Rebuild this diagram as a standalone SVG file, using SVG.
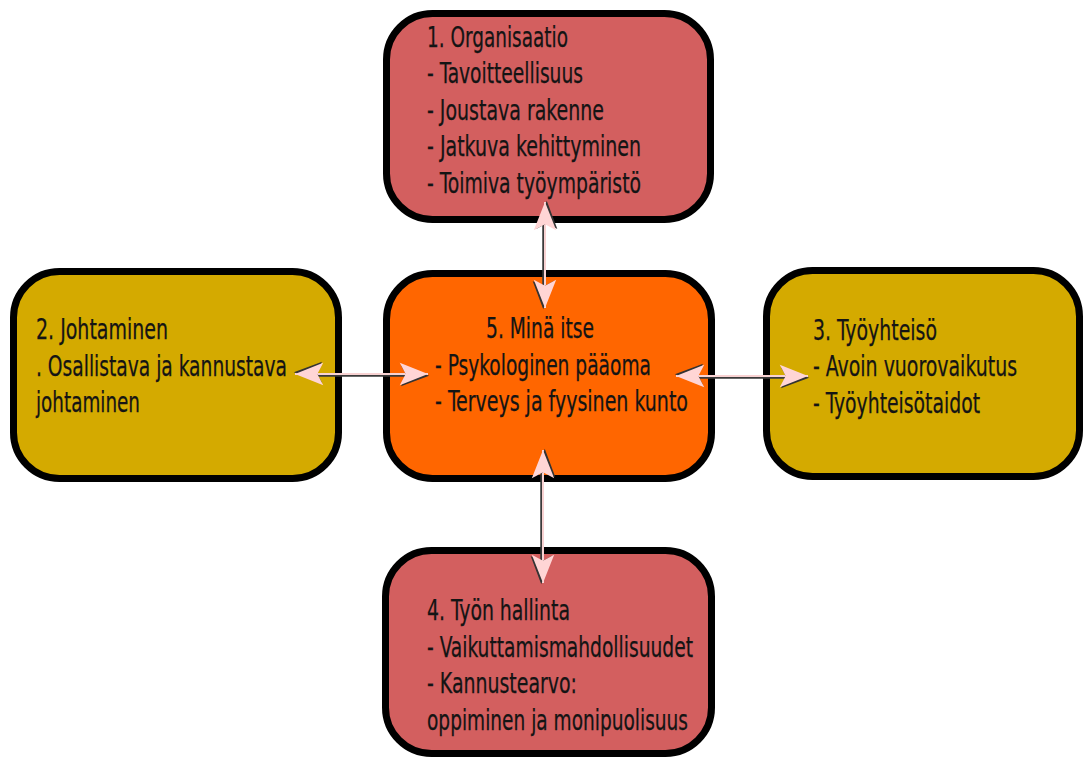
<svg xmlns="http://www.w3.org/2000/svg" width="1086" height="758" viewBox="0 0 1086 758">
<style>
.box{stroke:#000;stroke-width:7}
.red{fill:#d35f5f}
.org{fill:#ff6600}
.yel{fill:#d4aa00}
text{font-family:"DejaVu Sans Condensed","DejaVu Sans",sans-serif;font-size:28px;fill:#141414;stroke:#141414;stroke-width:0.25}
.sh{stroke:#3a3a3a;stroke-width:2.5;fill:none}
.ln{stroke:#f8d2d2;stroke-width:2;fill:none;marker-start:url(#ah);marker-end:url(#ah)}
</style>
<defs>
<marker id="ah" markerUnits="userSpaceOnUse" markerWidth="40" markerHeight="40" viewBox="-30 -15 34 30" refX="0" refY="0" orient="auto-start-reverse" overflow="visible">
<path d="M1,1.5 L-23,-7.5 L-18,1.5 L-23,10.5 Z" fill="#333"/>
<path d="M0,0 L-24,-9.5 L-19,0 L-24,9.5 Z" fill="#ffd5d5"/>
</marker>
</defs>
<rect width="1086" height="758" fill="#fff"/>
<g id="node1">
<rect class="box red" x="386.5" y="13.5" width="324" height="206" rx="46"/>
<text x="427" y="46.5" textLength="141" lengthAdjust="spacingAndGlyphs">1. Organisaatio</text>
<text x="427" y="83" textLength="156" lengthAdjust="spacingAndGlyphs">- Tavoitteellisuus</text>
<text x="427" y="119.5" textLength="177" lengthAdjust="spacingAndGlyphs">- Joustava rakenne</text>
<text x="427" y="156" textLength="214" lengthAdjust="spacingAndGlyphs">- Jatkuva kehittyminen</text>
<text x="427" y="192.5" textLength="214" lengthAdjust="spacingAndGlyphs">- Toimiva työympäristö</text>
</g>
<g id="node2">
<rect class="box yel" x="13.5" y="271.5" width="325" height="207" rx="46"/>
<text x="36" y="339" textLength="132" lengthAdjust="spacingAndGlyphs">2. Johtaminen</text>
<text x="36" y="375.5" textLength="251" lengthAdjust="spacingAndGlyphs">. Osallistava ja kannustava</text>
<text x="36" y="412" textLength="104" lengthAdjust="spacingAndGlyphs">johtaminen</text>
</g>
<g id="node3">
<rect class="box yel" x="766.5" y="270.5" width="313" height="206" rx="46"/>
<text x="813" y="339.5" textLength="124" lengthAdjust="spacingAndGlyphs">3. Työyhteisö</text>
<text x="813" y="376" textLength="204" lengthAdjust="spacingAndGlyphs">- Avoin vuorovaikutus</text>
<text x="813" y="412.5" textLength="167" lengthAdjust="spacingAndGlyphs">- Työyhteisötaidot</text>
</g>
<g id="node4">
<rect class="box red" x="385.5" y="550.5" width="326" height="203" rx="46"/>
<text x="427" y="620" textLength="143" lengthAdjust="spacingAndGlyphs">4. Työn hallinta</text>
<text x="427" y="656.5" textLength="266" lengthAdjust="spacingAndGlyphs">- Vaikuttamismahdollisuudet</text>
<text x="427" y="693" textLength="150" lengthAdjust="spacingAndGlyphs">- Kannustearvo:</text>
<text x="427" y="729.5" textLength="261" lengthAdjust="spacingAndGlyphs">oppiminen ja monipuolisuus</text>
</g>
<g id="node5">
<rect class="box org" x="386.5" y="273.5" width="325" height="205" rx="46"/>
<text x="486" y="338" textLength="108" lengthAdjust="spacingAndGlyphs">5. Minä itse</text>
<text x="435" y="374.5" textLength="216" lengthAdjust="spacingAndGlyphs">- Psykologinen pääoma</text>
<text x="435" y="411" textLength="253" lengthAdjust="spacingAndGlyphs">- Terveys ja fyysinen kunto</text>
</g>
<g id="connectors">
<line class="sh" x1="543.5" y1="222" x2="543.5" y2="288"/>
<line class="ln" x1="545" y1="202" x2="545" y2="308"/>
<line class="sh" x1="541.5" y1="470" x2="541.5" y2="563"/>
<line class="ln" x1="543" y1="450" x2="543" y2="583"/>
<line class="sh" x1="315" y1="375.5" x2="408" y2="375.5"/>
<line class="ln" x1="295" y1="374" x2="428" y2="374"/>
<line class="sh" x1="696" y1="377.5" x2="788" y2="377.5"/>
<line class="ln" x1="676" y1="376" x2="808" y2="376"/>
</g>
</svg>
